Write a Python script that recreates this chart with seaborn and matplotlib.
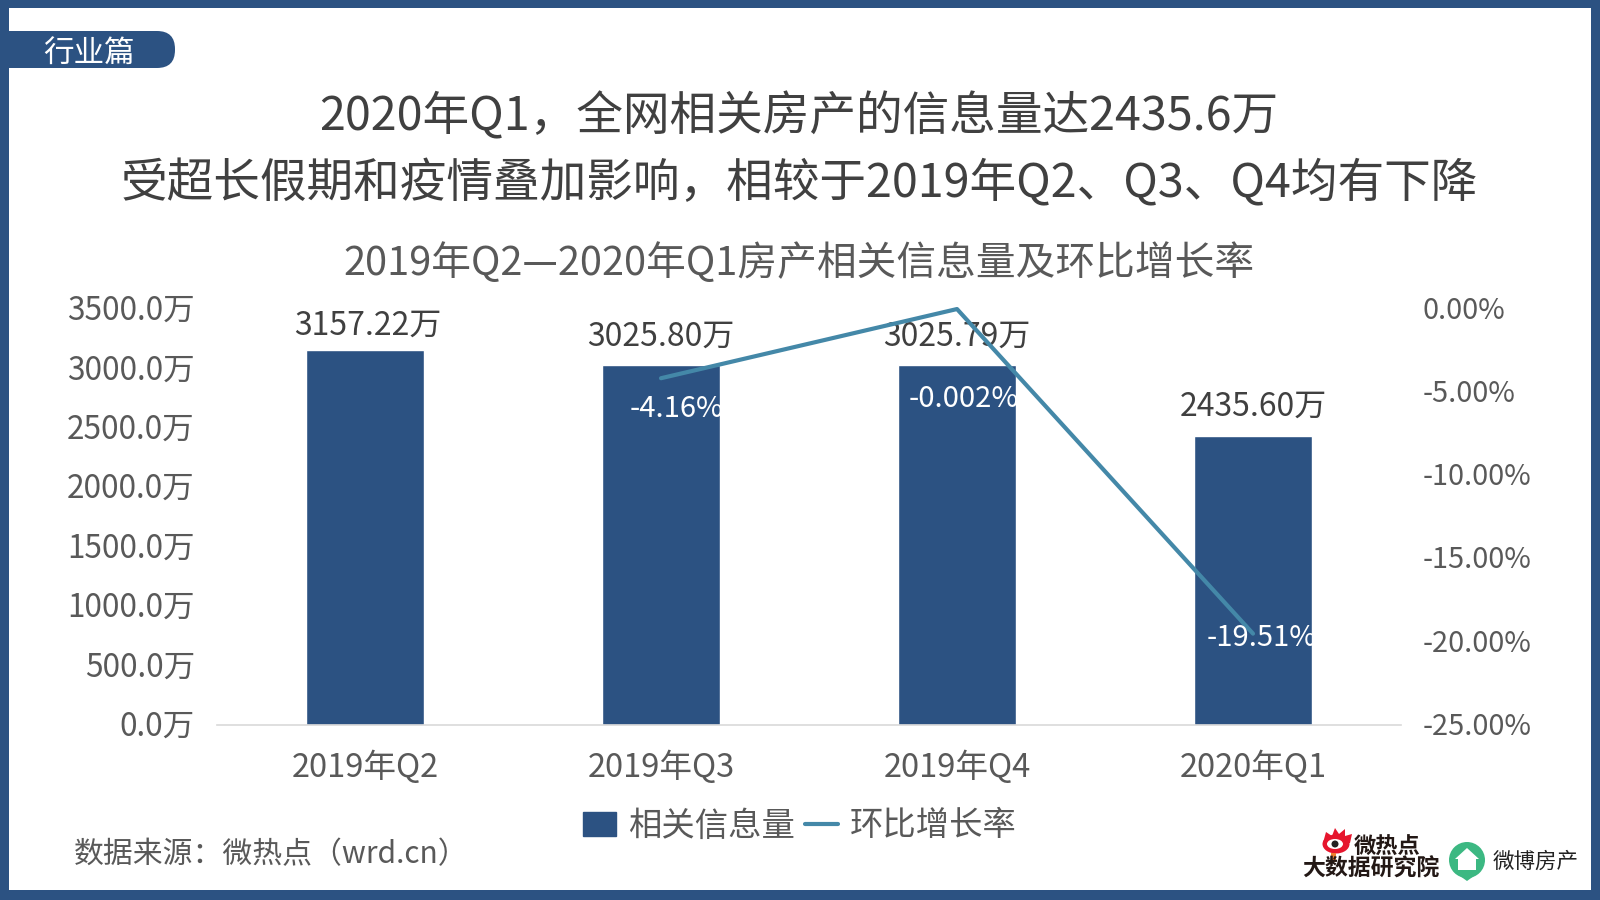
import matplotlib
matplotlib.use('Agg')
import matplotlib.pyplot as plt
from matplotlib.patches import Rectangle, FancyBboxPatch, Circle, Polygon, Ellipse
from matplotlib.lines import Line2D
from matplotlib.transforms import ScaledTranslation
import pandas as pd
import seaborn as sns

sns.set_theme(style='white')
plt.rcParams['font.family'] = ['Noto Sans CJK SC', 'DejaVu Sans']
plt.rcParams['font.weight'] = 'light'

quarters = ['2019年Q2', '2019年Q3', '2019年Q4', '2020年Q1']
info_volume = [3157.22, 3025.80, 3025.79, 2435.60]
growth_rate = [None, -4.16, -0.002, -19.51]
volume_labels = ['3157.22万', '3025.80万', '3025.79万', '2435.60万']
growth_labels = ['', '-4.16%', '-0.002%', '-19.51%']
left_ticks = [0, 500, 1000, 1500, 2000, 2500, 3000, 3500]
right_ticks = [0, -5, -10, -15, -20, -25]

navy = '#2C5282'
teal = '#4488A8'
dark = '#404040'
grey = '#595959'
W, H = 1600, 900

df = pd.DataFrame({'quarter': quarters, 'volume': info_volume, 'growth': growth_rate})

fig = plt.figure(figsize=(16, 9), dpi=100, facecolor='white')

# frame and the tag in the corner
bg = fig.add_axes([0, 0, 1, 1], zorder=0)
bg.set_xlim(0, W)
bg.set_ylim(H, 0)
bg.axis('off')
bg.add_patch(Rectangle((0, 0), W, 8, color=navy, lw=0))
bg.add_patch(Rectangle((0, 890), W, 10, color=navy, lw=0))
bg.add_patch(Rectangle((0, 0), 9, H, color=navy, lw=0))
bg.add_patch(Rectangle((1591, 0), 9, H, color=navy, lw=0))
bg.add_patch(FancyBboxPatch((-40, 31), 215, 37, boxstyle='round,pad=0,rounding_size=18', color=navy, lw=0))
bg.text(89, 54, '行业篇', color='white', fontsize=22, ha='center', va='center')

bg.text(799, 117, '2020年Q1，全网相关房产的信息量达2435.6万', color=dark, fontsize=33.6, ha='center', va='center')
bg.text(799, 184, '受超长假期和疫情叠加影响，相较于2019年Q2、Q3、Q4均有下降', color=dark, fontsize=33.6, ha='center', va='center')
bg.text(799, 264, '2019年Q2—2020年Q1房产相关信息量及环比增长率', color=grey, fontsize=28.6, ha='center', va='center')
bg.text(74, 855, '数据来源：微热点（wrd.cn）', color=grey, fontsize=21.5, ha='left', va='center')

# logos
bg.add_patch(Polygon([[1323, 843], [1326, 832], [1332, 836], [1335, 828], [1339, 834], [1345, 829],
                      [1345, 836], [1352, 834], [1350, 843]], color='#E6162D', lw=0))
bg.add_patch(Ellipse((1336, 844), 27, 19, color='#E6162D', lw=0))
bg.add_patch(Ellipse((1335, 844), 16, 10, color='white', lw=0))
bg.add_patch(Circle((1335, 844), 3.5, color='#222222', lw=0))
bg.add_patch(Rectangle((1331, 853), 5, 9, color='#F08030', lw=0))
bg.text(1387, 847, '微热点', color='#231815', fontsize=16, fontweight='bold', ha='center', va='center')
bg.text(1371, 869, '大数据研究院', color='#231815', fontsize=16.5, fontweight='bold', ha='center', va='center')
bg.add_patch(Circle((1467, 860), 18, color='#3CB882', lw=0))
bg.add_patch(Polygon([[1460, 876], [1474, 876], [1467, 881]], color='#3CB882', lw=0))
bg.add_patch(Polygon([[1455, 859], [1467, 848], [1479, 859], [1476, 859], [1476, 870], [1458, 870], [1458, 859]], color='white', lw=0))
bg.text(1536, 862, '微博房产', color='#222222', fontsize=15.5, ha='center', va='center')

# bars
ax = fig.add_axes([217 / W, 1 - 725 / H, 1184 / W, 416 / H], zorder=1)
ax.patch.set_alpha(0)
sns.barplot(data=df, x='quarter', y='volume', color=navy, saturation=1, width=0.4, ax=ax)
ax.set_ylim(0, 3500)
ax.set_xlim(-0.5, 3.5)
ax.set_xlabel('')
ax.set_ylabel('')
ax.set_yticks(left_ticks)
ax.set_yticklabels([f'{v:.1f}万' for v in left_ticks], fontsize=22.7, color=grey)
ax.tick_params(axis='y', length=0, pad=16)
ax.tick_params(axis='x', length=0, pad=18.5, labelsize=23.5, labelcolor=grey)
sns.despine(ax=ax, left=True, right=True, top=True)
ax.spines['bottom'].set_color('#D9D9D9')
ax.spines['bottom'].set_linewidth(1.2)
up = ScaledTranslation(0, 1.2 / 72, fig.dpi_scale_trans)
for lab in ax.get_yticklabels():
    lab.set_transform(lab.get_transform() + up)
label_gap = [6, 9, 9, 9]
label_nudge = [2, 0, 0, 0]
for i, v in enumerate(info_volume):
    ax.annotate(volume_labels[i], (i, v), xytext=(label_nudge[i], label_gap[i]), textcoords='offset points',
                ha='center', va='bottom', fontsize=23, color=dark)

# growth line on the second axis
ax2 = ax.twinx()
sns.lineplot(data=df, x='quarter', y='growth', color=teal, linewidth=3, ax=ax2)
ax2.set_ylim(-25, 0)
ax2.set_xlim(-0.5, 3.5)
ax2.set_ylabel('')
ax2.set_yticks(right_ticks)
ax2.set_yticklabels([f'{v:.2f}%' for v in right_ticks], fontsize=20.8, color=grey)
ax2.tick_params(axis='y', length=0, pad=15.5)
sns.despine(ax=ax2, left=True, right=True, top=True, bottom=True)
for lab in ax2.get_yticklabels():
    lab.set_transform(lab.get_transform() + up)
for line in ax2.lines:
    line.set_clip_on(False)
growth_offset = [None, (11, -22.5), (5, -65), (6.5, -3)]
for i, v in enumerate(growth_rate):
    if v is None:
        continue
    ax2.annotate(growth_labels[i], (i, v), xytext=growth_offset[i], textcoords='offset points',
                 ha='center', va='center', fontsize=21, color='white', clip_on=False)

# legend
handles = [Rectangle((0, 0), 1, 1, color=navy), Line2D([0], [0], color=teal, lw=3)]
fig.legend(handles, ['相关信息量', '环比增长率'], loc='center', bbox_to_anchor=(799.5 / W, 1 - 826 / H),
           ncol=2, frameon=False, fontsize=24, labelcolor=grey, handlelength=1.0, handletextpad=0.35,
           columnspacing=0.3, borderpad=0)

fig.savefig('out.png', dpi=100)
